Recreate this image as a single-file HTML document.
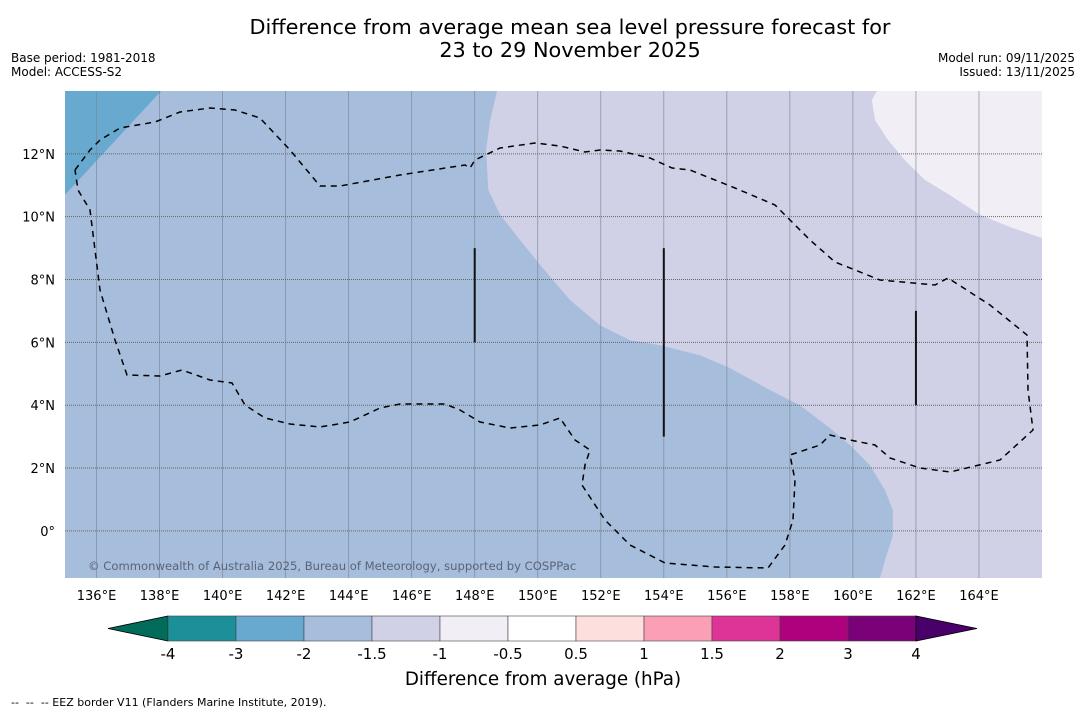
<!DOCTYPE html>
<html><head><meta charset="utf-8"><style>
html,body{margin:0;padding:0;background:#fff;}
body{width:1085px;height:713px;overflow:hidden;font-family:"DejaVu Sans","Liberation Sans",sans-serif;}
</style></head><body>
<svg id="chart" width="1085" height="713" xmlns="http://www.w3.org/2000/svg" font-family="DejaVu Sans, Liberation Sans, sans-serif">
<text x="570" y="34" font-size="20.8" text-anchor="middle">Difference from average mean sea level pressure forecast for</text>
<text x="570" y="57" font-size="20.8" text-anchor="middle">23 to 29 November 2025</text>
<text x="11" y="62" font-size="12">Base period: 1981-2018</text>
<text x="11" y="76" font-size="12">Model: ACCESS-S2</text>
<text x="1075" y="62" font-size="12" text-anchor="end">Model run: 09/11/2025</text>
<text x="1075" y="76" font-size="12" text-anchor="end">Issued: 13/11/2025</text>
<g id="map"></g>
<g id="cbar"></g>
<text x="543" y="685" font-size="18.3" text-anchor="middle">Difference from average (hPa)</text>
<text x="11" y="706" font-size="11" xml:space="preserve">--  --  -- EEZ border V11 (Flanders Marine Institute, 2019).</text>
</svg>
<script>
const lonTicks=[136,138,140,142,144,146,148,150,152,154,156,158,160,162,164];
const latTicks=[0,2,4,6,8,10,12];
const cbLevels=[-4,-3,-2,-1.5,-1,-0.5,0.5,1,1.5,2,3,4];
const cbColors=["#1c9099","#67a9cf","#a6bddb","#d0d1e6","#f1eef6","#ffffff","#fde0dd","#fa9fb5","#dd3497","#ae017e","#7a0177"];
const cbUnder="#016c59", cbOver="#49006a";
// anomaly band boundaries [lon,lat]
const teal=[[135,14],[138.05,14],[135,10.7]];
const band15=[[148.71,14],[148.49,13.08],[148.36,12.12],[148.43,10.85],[148.81,10.06],[149.44,9.25],[150.08,8.46],[151.03,7.34],[151.97,6.55],[152.93,6.07],[153.88,5.91],[155.15,5.59],[156.1,5.18],[157.37,4.48],[158.32,4.0],[159.27,3.27],[159.91,2.73],[160.54,2.09],[161.02,1.29],[161.27,0.66],[161.27,-0.14],[161.02,-0.93],[160.86,-1.5]];
const band1=[[160.76,14],[160.6,13.71],[160.7,13.08],[161.11,12.44],[161.65,11.8],[162.28,11.17],[163.07,10.69],[164.03,10.06],[164.98,9.67],[166,9.32]];
const bars=[{lon:148,lat0:6,lat1:9},{lon:154,lat0:3,lat1:9},{lon:162,lat0:4,lat1:7}];
const eezPx=[[75,170],[90,150],[100,140],[120,128],[155,122],[180,112],[210,108],[235,110],[260,118],[290,150],[320,186],[340,186],[400,175],[465,165],[470,168],[475,160],[500,148],[535,143],[560,146],[585,152],[600,150],[620,151],[650,158],[672,168],[690,170],[735,188],[775,205],[790,220],[810,240],[835,262],[880,280],[935,285],[948,278],[990,305],[1027,335],[1028,390],[1033,430],[1000,460],[950,472],[920,468],[890,458],[875,445],[850,440],[830,435],[820,445],[790,455],[795,480],[793,520],[785,545],[768,568],[715,567],[665,563],[630,545],[605,520],[582,485],[585,465],[590,450],[575,440],[560,418],[540,425],[510,428],[480,422],[460,410],[445,404],[400,404],[380,408],[350,422],[320,427],[290,424],[265,418],[245,405],[232,383],[210,380],[182,370],[160,376],[127,375],[115,340],[100,290],[95,250],[90,210],[78,190],[75,170]];
const NS="http://www.w3.org/2000/svg";
const X0=65,X1=1042,Y0=91,Y1=578,LON0=135,LON1=166,LAT0=-1.5,LAT1=14;
const x=lon=>X0+(lon-LON0)/(LON1-LON0)*(X1-X0);
const y=lat=>Y1-(lat-LAT0)/(LAT1-LAT0)*(Y1-Y0);
function mk(tag,attrs,parent){const e=document.createElementNS(NS,tag);for(const k in attrs)e.setAttribute(k,attrs[k]);parent.appendChild(e);return e;}
const map=document.getElementById('map');
const bg=mk('rect',{x:X0,y:Y0,width:X1-X0,height:Y1-Y0,fill:"#a6bddb"},map);


const pts=a=>a.map(p=>x(p[0]).toFixed(1)+","+y(p[1]).toFixed(1)).join(" ");
const p1=mk('polygon',{points:pts(band15.concat([[166,-1.5],[166,14]])),fill:"#d0d1e6"},map);


const p2=mk('polygon',{points:pts(band1.concat([[166,14]])),fill:"#f1eef6"},map);


const p3=mk('polygon',{points:pts(teal),fill:"#67a9cf"},map);


lonTicks.forEach(l=>{
 const g=mk('line',{x1:x(l),x2:x(l),y1:Y0,y2:Y1,stroke:"#7a8494","stroke-width":0.8,"stroke-opacity":0.8},map);
 
 
 const t=mk('text',{x:x(l),y:600,"font-size":13,"text-anchor":"middle"},map);t.textContent=l+"°E";
 
 
});
latTicks.forEach(l=>{
 const g=mk('line',{x1:X0,x2:X1,y1:y(l),y2:y(l),stroke:"#666","stroke-width":1,"stroke-dasharray":"1,1"},map);
 
 
 const t=mk('text',{x:55,y:y(l)+5,"font-size":13,"text-anchor":"end"},map);t.textContent=l===0?"0°":l+"°N";
 
 
});
const eez=mk('polyline',{points:eezPx.map(p=>p.join(",")).join(" "),fill:"none",stroke:"#000","stroke-width":1.5,"stroke-dasharray":"6,5"},map);


bars.forEach(b=>{
 const l=mk('line',{x1:x(b.lon),x2:x(b.lon),y1:y(b.lat0),y2:y(b.lat1),stroke:"#111","stroke-width":2},map);
 
 
});
const cp=mk('text',{x:88,y:570,"font-size":11.6,fill:"#5a6478"},map);cp.textContent="© Commonwealth of Australia 2025, Bureau of Meteorology, supported by COSPPac";


const cb=document.getElementById('cbar');
const CX0=168,CW=68,CY=616,CH=25;
const ua=mk('polygon',{points:`${CX0},${CY} ${CX0},${CY+CH} 108,${CY+CH/2}`,fill:cbUnder,stroke:"#000","stroke-width":0.8},cb);


cbColors.forEach((c,i)=>{
 const r=mk('rect',{x:CX0+i*CW,y:CY,width:CW,height:CH,fill:c,stroke:"#444","stroke-width":0.6},cb);
 
 
});
const XE=CX0+cbColors.length*CW;
const oa=mk('polygon',{points:`${XE},${CY} ${XE},${CY+CH} 977,${CY+CH/2}`,fill:cbOver,stroke:"#000","stroke-width":0.8},cb);


cbLevels.forEach((v,i)=>{
 const t=mk('text',{x:CX0+i*CW,y:659,"font-size":15,"text-anchor":"middle"},cb);t.textContent=v;
 
 
});
</script>
</body></html>
